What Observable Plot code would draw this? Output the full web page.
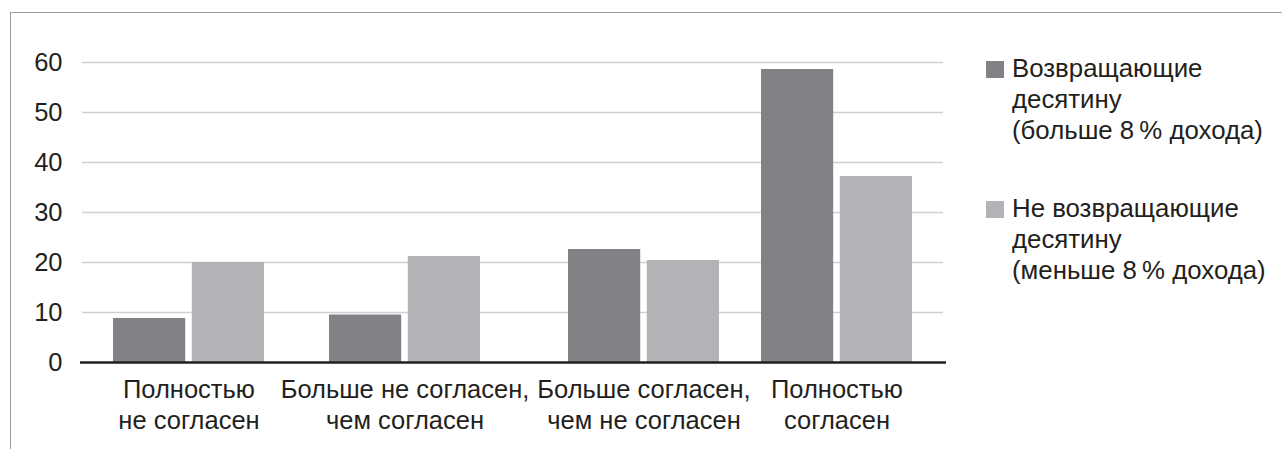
<!DOCTYPE html>
<html>
<head>
<meta charset="utf-8">
<script src="https://cdn.jsdelivr.net/npm/d3@7"></script>
<script src="https://cdn.jsdelivr.net/npm/@observablehq/plot@0.6"></script>
<style>
  html, body { margin: 0; padding: 0; background: #fff; }
  body { width: 1282px; height: 449px; position: relative; overflow: hidden;
         font-family: "Liberation Sans", Arial, Helvetica, sans-serif; color: #231f20; }
  #frame { position: absolute; left: 10px; top: 12px; right: -5px; bottom: -5px;
           border-left: 1.5px solid #9c9c9c; border-top: 1.5px solid #9c9c9c; }
  #chart { position: absolute; left: 0; top: 0; }
  .leg { position: absolute; left: 986px; font-size: 25.8px; line-height: 31px; }
  .leg .sw { position: absolute; left: 0; width: 18px; height: 17px; }
  .leg .tx { position: absolute; left: 26px; white-space: nowrap; }
</style>
</head>
<body>
<div id="frame"></div>
<div id="chart"></div>
<div id="legend"></div>
<script>
// ---- data ----
const categories = [
  "Полностью\nне согласен",
  "Больше не согласен,\nчем согласен",
  "Больше согласен,\nчем не согласен",
  "Полностью\nсогласен"
];
const seriesNames = [
  "Возвращающие\nдесятину\n(больше 8 % дохода)",
  "Не возвращающие\nдесятину\n(меньше 8 % дохода)"
];
const tithers = [8.8, 9.5, 22.6, 58.6];
const nonTithers = [20.0, 21.2, 20.4, 37.2];
const yTicks = [0, 10, 20, 30, 40, 50, 60];
const seriesColors = ["#818286", "#b2b3b6"];

const rows = [];
categories.forEach((c, i) => {
  rows.push({category: c, series: seriesNames[0], value: tithers[i]});
  rows.push({category: c, series: seriesNames[1], value: nonTithers[i]});
});

// the original layout places the third group a little further right
const shiftedCategory = categories[2];
const groupMarks = (shifted) => {
  const keep = d => (d.category === shiftedCategory) === shifted;
  const dx = shifted ? 23 : 0;
  const ticks = categories.filter(c => (c === shiftedCategory) === shifted);
  return [
    Plot.barY(rows.filter(d => keep(d) && d.series === seriesNames[0]), {x: "category", y: "value", fill: "series", insetRight: 78.8, dx}),
    Plot.barY(rows.filter(d => keep(d) && d.series === seriesNames[1]), {x: "category", y: "value", fill: "series", insetLeft: 78.8, dx}),
    Plot.axisX(ticks, {tickSize: 0, tickPadding: 13, fontSize: 25.5, lineHeight: 1.22, label: null, fill: "#231f20", dx})
  ];
};

const chart = Plot.plot({
  width: 946,
  height: 449,
  marginLeft: 80,
  marginRight: 0,
  marginTop: 62,
  marginBottom: 87,
  style: {
    fontFamily: "'Liberation Sans', Arial, Helvetica, sans-serif",
    fontSize: "25.5px",
    color: "#231f20",
    background: "transparent",
    overflow: "visible"
  },
  x: {domain: categories, paddingInner: 0.3, paddingOuter: 0.15},
  y: {domain: [0, 60]},
  color: {domain: seriesNames, range: seriesColors},
  marks: [
    Plot.gridY(yTicks.filter(v => v > 0), {stroke: "#d0d0d0", strokeOpacity: 1, strokeWidth: 1.5, insetLeft: 2, insetRight: 3}),
    ...groupMarks(false),
    ...groupMarks(true),
    Plot.ruleY([0], {stroke: "#231f20", strokeWidth: 2.5}),
    Plot.axisY(yTicks, {tickSize: 0, tickPadding: 18, fontSize: 25.5, label: null, fill: "#231f20"})
  ]
});
document.getElementById("chart").appendChild(chart);

// ---- legend ----
const legend = document.getElementById("legend");
const legendTops = [53, 193];
seriesNames.forEach((name, i) => {
  const item = document.createElement("div");
  item.className = "leg";
  item.style.top = legendTops[i] + "px";
  const sw = document.createElement("div");
  sw.className = "sw";
  sw.style.background = seriesColors[i];
  sw.style.top = "8px";
  const tx = document.createElement("div");
  tx.className = "tx";
  tx.innerHTML = name.split("\n").map(s => s.replace(/ % /g, "\u2009% ")).join("<br>");
  item.appendChild(sw);
  item.appendChild(tx);
  legend.appendChild(item);
});
</script>
</body>
</html>
